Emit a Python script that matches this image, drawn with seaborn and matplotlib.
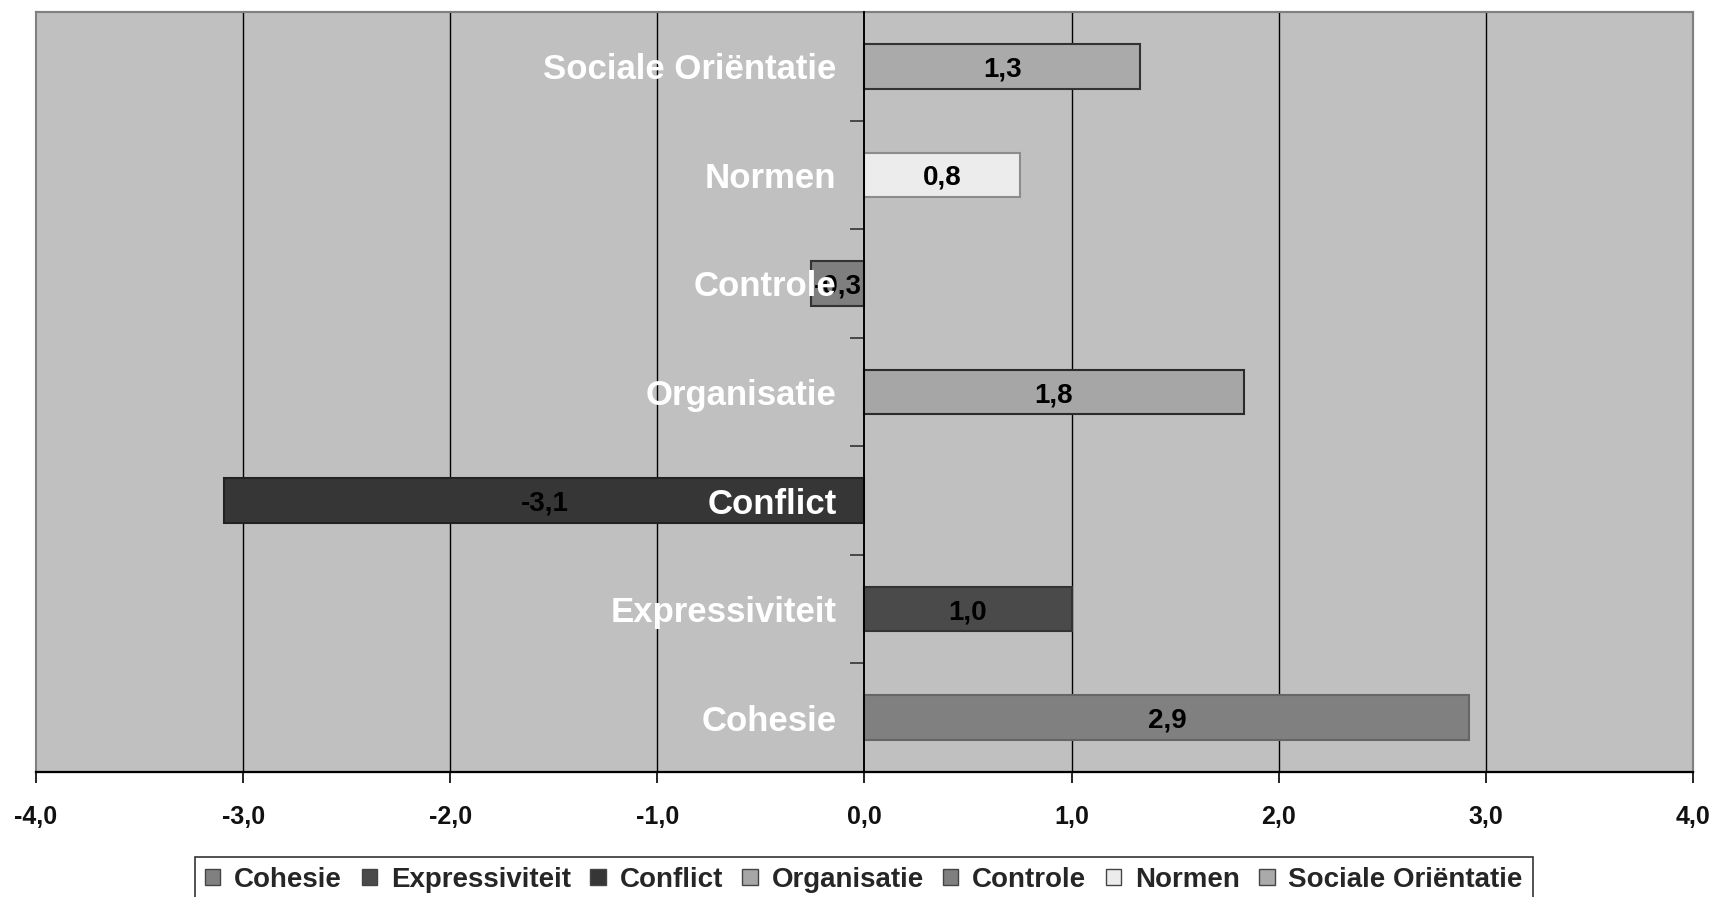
import matplotlib
matplotlib.use("Agg")
import matplotlib.pyplot as plt
from matplotlib.patches import Patch, Rectangle
import seaborn as sns
import pandas as pd

# Scale scores per dimension (top to bottom as drawn)
categories = ["Sociale Oriëntatie", "Normen", "Controle", "Organisatie",
              "Conflict", "Expressiviteit", "Cohesie"]
values = [1.33, 0.75, -0.26, 1.83, -3.09, 1.0, 2.92]

fill_colors = ["#aaaaaa", "#ececec", "#7f7f7f", "#a6a6a6",
               "#363636", "#4a4a4a", "#808080"]
edge_colors = ["#333333", "#8c8c8c", "#333333", "#2b2b2b",
               "#222222", "#333333", "#666666"]

legend_order = ["Cohesie", "Expressiviteit", "Conflict", "Organisatie",
                "Controle", "Normen", "Sociale Oriëntatie"]

x_ticks = [-4, -3, -2, -1, 0, 1, 2, 3, 4]

sns.set_theme(style="white")
plt.rcParams["font.family"] = ["Liberation Sans", "DejaVu Sans"]
plt.rcParams["font.weight"] = "bold"

df = pd.DataFrame({"Dimensie": categories, "Score": values})
palette = dict(zip(categories, fill_colors))
edges = dict(zip(categories, edge_colors))

fig = plt.figure(figsize=(17.15, 8.97), dpi=100)
ax = fig.add_axes([36 / 1715, 1 - 772 / 897, (1693 - 36) / 1715, (772 - 12) / 897])
ax.set_facecolor("#c0c0c0")

sns.barplot(data=df, x="Score", y="Dimensie", hue="Dimensie", order=categories,
            hue_order=categories, palette=palette, width=0.41, legend=False,
            orient="h", saturation=1, ax=ax, zorder=3)

for p in ax.patches:
    idx = int(round(p.get_y() + p.get_height() / 2))
    p.set_edgecolor(edges[categories[idx]])
    p.set_linewidth(1.5)
    p.set_zorder(3)

ax.set_xlim(-4, 4)
ax.set_ylim(len(categories) - 0.5, -0.5)

# vertical gridlines
for xv in x_ticks:
    if xv not in (-4, 0, 4):
        ax.axvline(xv, color="black", lw=1.0, zorder=1)

# frame
for s in ("top", "right"):
    ax.spines[s].set_color("#808080")
    ax.spines[s].set_linewidth(1.5)
ax.spines["bottom"].set_color("black")
ax.spines["bottom"].set_linewidth(1.6)
ax.spines["left"].set_position(("data", 0))
ax.spines["left"].set_color("black")
ax.spines["left"].set_linewidth(1.4)
ax.spines["left"].set_zorder(4)
ax.add_patch(Rectangle((0, 0), 1, 1, transform=ax.transAxes, fill=False,
                       edgecolor="#808080", lw=1.5, zorder=0.5, clip_on=False))

ax.set_yticks([i + 0.5 for i in range(len(categories) - 1)])
ax.set_yticklabels([])
ax.tick_params(axis="y", direction="out", length=10, width=1.2, color="#333333", left=True)

ax.set_xticks(x_ticks)
ax.set_xticklabels([f"{v:.1f}".replace(".", ",") for v in x_ticks],
                   fontsize=18, fontweight="bold", color="#111111")
ax.tick_params(axis="x", direction="out", length=8, width=1.2, color="black",
               pad=16, bottom=True)
ax.set_xlabel("")
ax.set_ylabel("")

# value labels centred in bars
for i, v in enumerate(values):
    ax.text(v / 2, i, f"{v:.1f}".replace(".", ","), ha="center",
            va="center_baseline", fontsize=20, fontweight="bold",
            color="black", zorder=5)

# category labels beside the zero line
for i, c in enumerate(categories):
    ax.text(-0.135, i, c, ha="right", va="center_baseline", fontsize=25,
            fontweight="bold", color="white", zorder=6)

handles = [Patch(facecolor=palette[c], edgecolor="#444444", lw=1.0) for c in legend_order]
leg = fig.legend(handles, legend_order, loc="upper center",
                 bbox_to_anchor=(864 / 1715, 1 - 857 / 897), ncol=7,
                 frameon=True, fancybox=False, edgecolor="black",
                 prop={"size": 20, "weight": "bold"}, handlelength=0.55,
                 handleheight=0.55, handletextpad=0.5, columnspacing=0.7,
                 borderpad=0.35, borderaxespad=0)
leg.get_frame().set_linewidth(1.2)

fig.savefig("out.png", dpi=100)
